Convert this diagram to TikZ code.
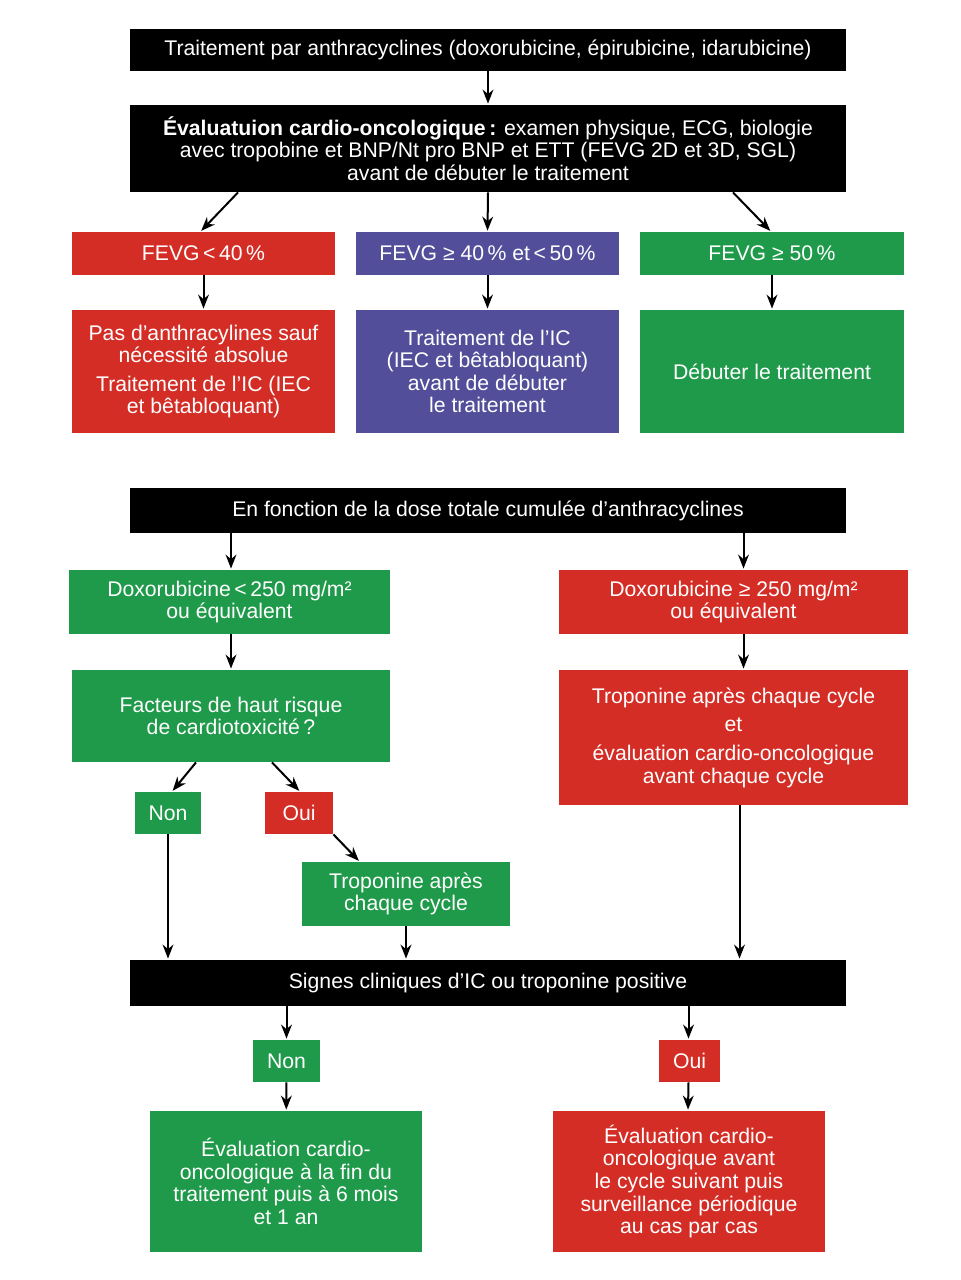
\documentclass[tikz,border=0pt]{standalone}
\usepackage{fontspec}
\setmainfont{Liberation Sans}
\usepackage{tikz}
\usetikzlibrary{arrows.meta,positioning,calc}
\definecolor{cardio-red}{HTML}{D42D26}
\definecolor{cardio-green}{HTML}{1F9A4A}
\definecolor{cardio-blue}{HTML}{524E9A}

\begin{document}
\begin{tikzpicture}[
  x=0.5pt, y=-0.5pt,
  box/.style={rectangle, inner sep=0pt, text=white, align=center,
              font=\fontsize{10.6}{11.3}\selectfont},
  blk/.style={box, fill=black, minimum width=358pt},
  redbox/.style={box, fill=cardio-red},
  grnbox/.style={box, fill=cardio-green},
  blubox/.style={box, fill=cardio-blue},
  arr/.style={-{Stealth[length=7pt,width=5.4pt]}, black, line width=1pt, shorten >=0.5pt}
]
  \useasboundingbox[fill=white] (0,0) rectangle (961,1280);

  % Part 1
  \node[blk, minimum height=21pt]   (start) at (488,50)  {Traitement par anthracyclines (doxorubicine, épirubicine, idarubicine)};
  \node[blk, minimum height=43.5pt] (eval)  at (488,148.5)
    {\textbf{Évaluatuion cardio-oncologique\,:} examen physique, ECG, biologie\\
     avec tropobine et BNP/Nt pro BNP et ETT (FEVG 2D et 3D, SGL)\\
     avant de débuter le traitement};

  % FEVG row
  \node[redbox, minimum width=131.5pt, minimum height=21.5pt] (fevgLo)  at (203.5,253.5) {FEVG\,<\,40\,\%};
  \node[blubox, minimum width=131.5pt, minimum height=21.5pt] (fevgMid) at (487.5,253.5) {FEVG ≥ 40\,\% et\,<\,50\,\%};
  \node[grnbox, minimum width=132pt,   minimum height=21.5pt] (fevgHi)  at (772,253.5)   {FEVG ≥ 50\,\%};

  \node[redbox, minimum width=131.5pt, minimum height=61.5pt] (resLo)  at (203.5,371.5)
    {Pas d’anthracylines sauf\\nécessité absolue\\[3pt]Traitement de l'IC (IEC\\et bêtabloquant)};
  \node[blubox, minimum width=131.5pt, minimum height=61.5pt] (resMid) at (487.5,371.5)
    {Traitement de l’IC\\(IEC et bêtabloquant)\\avant de débuter\\le traitement};
  \node[grnbox, minimum width=132pt,   minimum height=61.5pt] (resHi)  at (772,371.5)
    {Débuter le traitement};

  % Part 2
  \node[blk, minimum height=22.5pt] (dose) at (488,510.5) {En fonction de la dose totale cumulée d’anthracyclines};

  % Column 1
  \node[grnbox, minimum width=160.5pt, minimum height=32pt] (doxLo)  at (229.5,602) {Doxorubicine\,<\,250 mg/m²\\ou équivalent};
  \node[grnbox, minimum width=159pt,   minimum height=46pt] (risk)   at (231,716)   {Facteurs de haut risque\\de cardiotoxicité\,?};
  \node[grnbox, minimum width=33pt,    minimum height=21pt] (non1)   at (168,813)   {Non};
  \node[redbox, minimum width=34pt,    minimum height=21pt] (oui1)   at (299,813)   {Oui};
  \node[grnbox, minimum width=104pt,   minimum height=32pt] (tropLo) at (406,894)   {Troponine après\\chaque cycle};

  % Column 2
  \node[redbox, minimum width=174.5pt, minimum height=32pt]   (doxHi)  at (733.5,602)   {Doxorubicine ≥ 250 mg/m²\\ou équivalent};
  \node[redbox, minimum width=174.5pt, minimum height=67.5pt] (tropHi) at (733.5,737.5)
    {Troponine après chaque cycle\\[3pt]et\\[3pt]évaluation cardio-oncologique\\avant chaque cycle};

  % Part 3
  \node[blk, minimum height=23pt] (signs) at (488,983) {Signes cliniques d’IC ou troponine positive};
  \node[grnbox, minimum width=33.5pt, minimum height=21pt]  (non2)  at (286.5,1061)  {Non};
  \node[redbox, minimum width=30.5pt, minimum height=21pt]  (oui2)  at (689.5,1061)  {Oui};
  \node[grnbox, minimum width=136pt,  minimum height=70.5pt] (endLo) at (286,1181.5)
    {Évaluation cardio-\\oncologique à la fin du\\traitement puis à 6 mois\\et 1 an};
  \node[redbox, minimum width=136pt,  minimum height=70.5pt] (endHi) at (689,1181.5)
    {Évaluation cardio-\\oncologique avant\\le cycle suivant puis\\surveillance périodique\\au cas par cas};

  % Arrows part 1
  \draw[arr] (start) -- (eval);
  \draw[arr] ($(eval.south)+(-250,0)$) -- ($(fevgLo.north)+(-3,0)$);
  \draw[arr] (eval.south) -- (fevgMid.north);
  \draw[arr] ($(eval.south)+(245,0)$) -- ($(fevgHi.north)+(-1,0)$);
  \draw[arr] (fevgLo)  -- (resLo);
  \draw[arr] (fevgMid) -- (resMid);
  \draw[arr] (fevgHi)  -- (resHi);

  % Arrows part 2
  \draw[arr] (risk.north |- dose.south) -- (risk.north |- doxLo.north);
  \draw[arr] ([xshift=5pt]doxHi.north |- dose.south) -- ([xshift=5pt]doxHi.north);
  \draw[arr] (risk.north |- doxLo.south) -- (risk.north);
  \draw[arr] ([xshift=5pt]doxHi.south) -- ([xshift=5pt]tropHi.north);
  \draw[arr] ($(risk.south)+(-35,0)$) -- ($(non1.north)+(4,0)$);
  \draw[arr] ($(risk.south)+(41,0)$)  -- ($(oui1.north)+(1,0)$);
  \draw[arr] (oui1.south east) -- ($(tropLo.north west)+(58,0)$);
  \draw[arr] (non1.south) -- (non1.south |- signs.north);
  \draw[arr] (tropLo.south) -- (tropLo.south |- signs.north);
  \draw[arr] ([xshift=3pt]tropHi.south) -- ([xshift=3pt]tropHi.south |- signs.north);

  % Arrows part 3
  \draw[arr] (non2.north |- signs.south) -- (non2.north);
  \draw[arr] ([xshift=-0.5pt]oui2.north |- signs.south) -- ([xshift=-0.5pt]oui2.north);
  \draw[arr] (non2) -- (endLo);
  \draw[arr] ([xshift=-0.5pt]oui2.south) -- ([xshift=-0.5pt]endHi.north);
\end{tikzpicture}
\end{document}
